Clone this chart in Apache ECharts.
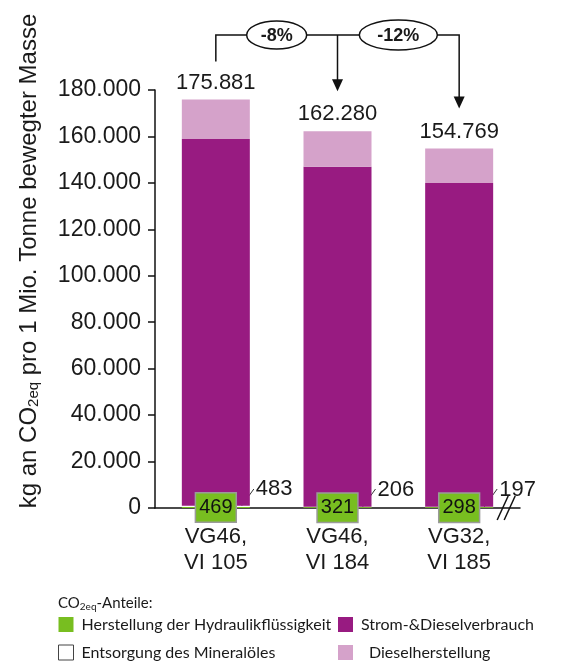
<!DOCTYPE html>
<html><head><meta charset="utf-8">
<script src="https://cdn.jsdelivr.net/npm/echarts@6/dist/echarts.min.js"></script>
<style>html,body{margin:0;padding:0;background:#fff}#c{width:578px;height:661px}</style>
</head><body><div id="c"></div>
<script>
const categories = ['VG46,\nVI 105', 'VG46,\nVI 184', 'VG32,\nVI 185'];
const seriesNames = ['Herstellung der Hydraulikflüssigkeit', 'Entsorgung des Mineralöles', 'Strom-&Dieselverbrauch', 'Dieselherstellung'];
const hydraulik = [469, 321, 298];
const entsorgung = [483, 206, 197];
const strom = [158000, 146400, 139500];
const diesel = [16929, 15353, 14774];
const totals = [175881, 162280, 154769];
const changeLabels = ['-8%', '-12%'];
const yTicks = [0, 20000, 40000, 60000, 80000, 100000, 120000, 140000, 160000, 180000];

const FONT = 'Liberation Sans, Arial, sans-serif';
const LFONT = 'Lato, Open Sans, sans-serif';
const TXT = '#1a1a1a';
const C_GREEN = '#78be20', C_PURPLE = '#981b81', C_PINK = '#d5a2ca';
const fmt = v => String(Math.round(v)).replace(/\B(?=(\d{3})+(?!\d))/g, '.');

const chart = echarts.init(document.getElementById('c'), null, {renderer: 'canvas'});
const BW = 68;
const legendRich = {
  a: {fontFamily: LFONT, fontSize: 16, color: TXT, lineHeight: 19, padding: [0, 0, 0, 3]},
  p: {fontFamily: LFONT, fontSize: 16, color: TXT, lineHeight: 19, padding: [0, 0, 0, 11]}
};
const legendCommon = {orient: 'vertical', top: 615, height: 120, padding: 0,
  itemWidth: 15, itemHeight: 15, itemGap: 9, icon: 'rect', selectedMode: false,
  textStyle: {fontFamily: LFONT, fontSize: 16, color: TXT, lineHeight: 19, rich: legendRich},
  formatter: n => n === seriesNames[3] ? '{p|' + n + '}' : '{a|' + n + '}'};
chart.setOption({
  animation: false,
  grid: {left: 155, right: 58, top: 90, bottom: 153, containLabel: false},
  xAxis: {
    type: 'category', data: categories,
    axisLine: {lineStyle: {color: '#111', width: 1.5}},
    axisTick: {show: false},
    axisLabel: {fontFamily: FONT, fontSize: 22, color: TXT, lineHeight: 26, margin: 16}
  },
  yAxis: {
    type: 'value', min: yTicks[0], max: yTicks[yTicks.length - 1], interval: 20000,
    axisLine: {show: true, lineStyle: {color: '#111', width: 1.5}},
    axisTick: {show: true, length: 7, lineStyle: {color: '#111', width: 1.5}},
    splitLine: {show: false},
    axisLabel: {fontFamily: FONT, fontSize: 23, color: TXT, margin: 14, formatter: v => fmt(v)}
  },
  legend: [
    Object.assign({}, legendCommon, {left: 58, width: 275,
     data: [seriesNames[0], {name: seriesNames[1], itemStyle: {color: '#fff', borderColor: '#444', borderWidth: 1}}]}),
    Object.assign({}, legendCommon, {left: 338, width: 235,
     data: [seriesNames[2], seriesNames[3]]})
  ],
  series: [
    {name: seriesNames[0], type: 'bar', stack: 't', barWidth: BW, data: hydraulik, z: 5,
     itemStyle: {color: C_GREEN},
     label: {show: true, position: 'inside', fontFamily: FONT, fontSize: 20, color: '#111',
             backgroundColor: C_GREEN, borderColor: '#9a9a9a', borderWidth: 1.5, padding: [5, 3, 3, 3]}},
    {name: seriesNames[1], type: 'bar', stack: 't', barWidth: BW, data: entsorgung,
     itemStyle: {color: '#fff'},
     label: {show: true, position: ['50%', '50%'], align: 'left', verticalAlign: 'middle',
             offset: [40, -17], fontFamily: FONT, fontSize: 22, color: TXT}},
    {name: seriesNames[2], type: 'bar', stack: 't', barWidth: BW, data: strom,
     itemStyle: {color: C_PURPLE}},
    {name: seriesNames[3], type: 'bar', stack: 't', barWidth: BW, data: diesel,
     itemStyle: {color: C_PINK},
     label: {show: true, position: 'top', distance: 6, fontFamily: FONT, fontSize: 22, color: TXT,
             formatter: p => fmt(totals[p.dataIndex])}}
  ]
});

// annotations positioned from the chart's own scales
const px = categories.map((c, i) => chart.convertToPixel({xAxisIndex: 0, yAxisIndex: 0}, [i, 0]));
const pt = totals.map((t, i) => chart.convertToPixel({xAxisIndex: 0, yAxisIndex: 0}, [i, t]));
const y0 = px[0][1];
const g = [];
const LS = {stroke: '#111', lineWidth: 1.5};
// y-axis title
g.push({type: 'text', x: 29, y: 261, rotation: Math.PI / 2,
  style: {text: 'kg an CO{s|2eq} pro 1 Mio. Tonne bewegter Masse', align: 'center', verticalAlign: 'middle',
    fontFamily: FONT, fontSize: 24, fill: TXT,
    rich: {s: {fontFamily: FONT, fontSize: 15, fill: TXT, verticalAlign: 'bottom', padding: [9, 0, 0, 0]}}}});
// leader slashes for small values
px.forEach(p => {
  g.push({type: 'line', shape: {x1: p[0] + 25, y1: y0 - 1, x2: p[0] + 38, y2: y0 - 19}, style: {stroke: '#333', lineWidth: 1}});
});
// axis break marks
const c3 = px[2][0];
[0, 7].forEach(d => g.push({type: 'line', shape: {x1: c3 + 38 + d, y1: y0 + 12, x2: c3 + 49 + d, y2: y0 - 12}, style: {stroke: '#111', lineWidth: 1.5}}));
// bracket
const yb = 35;
g.push({type: 'polyline', shape: {points: [[px[0][0], pt[0][1] - 38], [px[0][0], yb], [px[2][0], yb], [px[2][0], pt[2][1] - 48]]}, style: Object.assign({fill: null}, LS)});
g.push({type: 'line', shape: {x1: px[1][0], y1: yb, x2: px[1][0], y2: pt[1][1] - 48}, style: LS});
[1, 2].forEach(i => {
  const tip = pt[i][1] - 40;
  g.push({type: 'polygon', shape: {points: [[px[i][0] - 5.5, tip - 12], [px[i][0] + 5.5, tip - 12], [px[i][0], tip]]}, style: {fill: '#111'}});
});
const ell = [[(px[0][0] + px[1][0]) / 2, 30, 14], [(px[1][0] + px[2][0]) / 2, 39, 15]];
ell.forEach((e, i) => {
  g.push({type: 'ellipse', shape: {cx: e[0], cy: yb, rx: e[1], ry: e[2]}, style: {fill: '#fff', stroke: '#111', lineWidth: 1.5}, z: 10});
  g.push({type: 'text', x: e[0], y: yb + 1, z: 11, style: {text: changeLabels[i], align: 'center', verticalAlign: 'middle', fontFamily: FONT, fontSize: 18, fontWeight: 'bold', fill: TXT}});
});
// legend title
g.push({type: 'text', left: 58, top: 596, style: {text: 'CO{s|2eq}-Anteile:', fontFamily: LFONT, fontSize: 15, fill: TXT,
  rich: {s: {fontFamily: LFONT, fontSize: 10, fill: TXT, verticalAlign: 'bottom', padding: [6, 0, 0, 0]}}}});
chart.setOption({graphic: g});
</script></body></html>
